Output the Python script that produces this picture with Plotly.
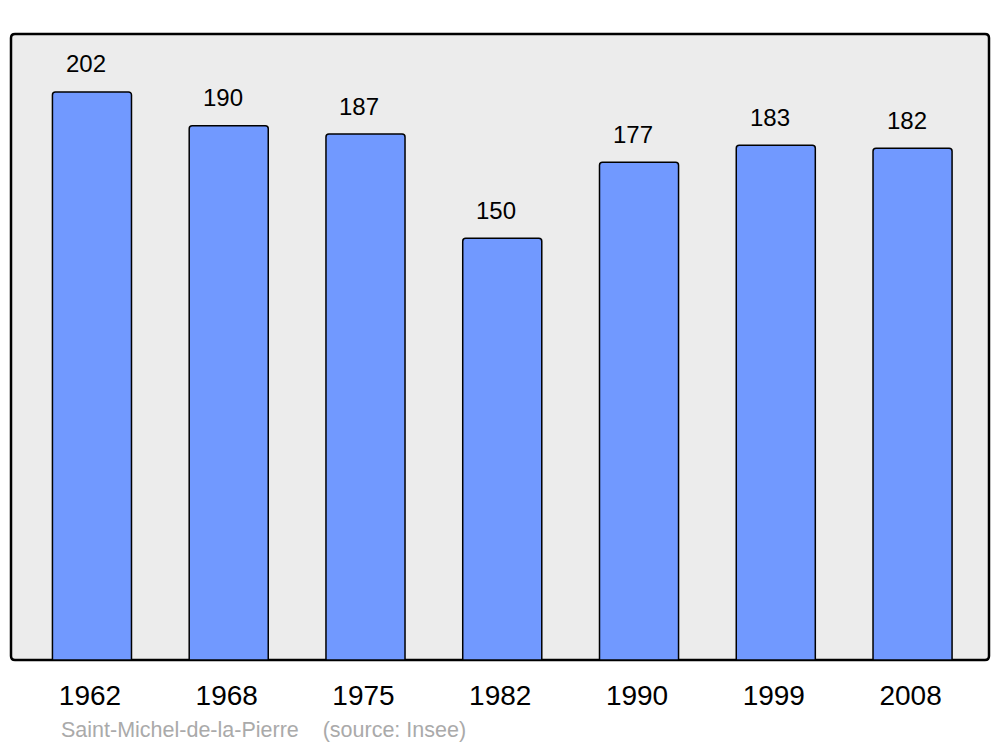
import plotly.graph_objects as go

years = ["1962", "1968", "1975", "1982", "1990", "1999", "2008"]
population = [202, 190, 187, 150, 177, 183, 182]
town = "Saint-Michel-de-la-Pierre"
source = "(source: Insee)"

xpos = list(range(len(years)))

fig = go.Figure()
fig.add_trace(go.Bar(
    x=xpos, y=population, width=0.578,
    marker=dict(color="#7199ff", line=dict(color="#000000", width=1.5), cornerradius=3),
    hoverinfo="skip",
))

for xi, v in zip(xpos, population):
    fig.add_annotation(x=xi, y=v, text=str(v), showarrow=False, xshift=-6, yshift=28,
                       font=dict(family="Liberation Sans, Arial", size=24, color="#000"))

# page body has an 8px margin: compensate so the plot lands where the reference has it
OFF = 8
W, H = 1000 - OFF, 747 - OFF
ml, mr, mt, mb = 11 - OFF, 11, 34 - OFF, 87
pw, ph = W - ml - mr, H - mt - mb
rx, ry = 4 / pw, 4 / ph
path = (f"M {rx},0 L {1-rx},0 Q 1,0 1,{ry} L 1,{1-ry} Q 1,1 {1-rx},1 "
        f"L {rx},1 Q 0,1 0,{1-ry} L 0,{ry} Q 0,0 {rx},0 Z")
fig.add_shape(type="path", xref="paper", yref="paper", path=path,
              fillcolor="#ececec", line=dict(color="#000000", width=2.5), layer="below")

fig.add_annotation(xref="paper", yref="paper", x=(59 - 11) / pw, y=-(730 - 660) / ph,
                   xanchor="left", yanchor="middle", showarrow=False,
                   text=town + "    " + source,
                   font=dict(family="Liberation Sans, Arial", size=21.5, color="#aaaaaa"))

fig.update_layout(
    width=W, height=H,
    margin=dict(l=ml, r=mr, t=mt, b=mb),
    paper_bgcolor="#ffffff", plot_bgcolor="rgba(0,0,0,0)",
    showlegend=False,
    xaxis=dict(range=[-0.592, 6.559], tickvals=xpos, ticktext=years, showgrid=False,
               zeroline=False, showline=False, ticks="", ticklabelstandoff=16,
               ticklabelshift=-2,
               tickfont=dict(family="Liberation Sans, Arial", size=28, color="#000")),
    yaxis=dict(range=[0, 222.6], visible=False, showgrid=False),
)

fig.write_html("out.html")
